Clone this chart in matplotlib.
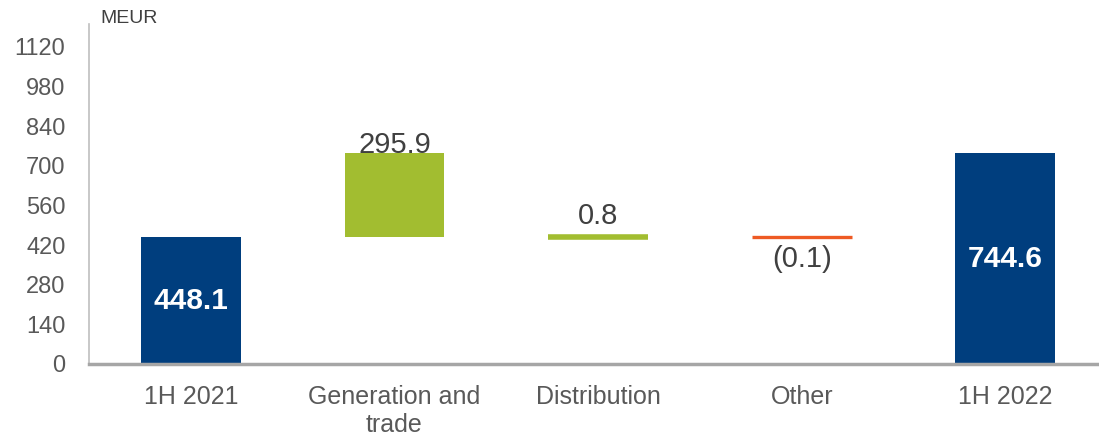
import numpy as np
import matplotlib.pyplot as plt

plt.rcParams['font.family'] = ['Liberation Sans', 'DejaVu Sans']

# data
categories = ["1H 2021", "Generation and\ntrade", "Distribution", "Other", "1H 2022"]
values = [448.1, 295.9, 0.8, -0.1, 744.6]
bases = [0, 448.1, 448.1, 448.1, 0]
labels = ["448.1", "295.9", "0.8", "(0.1)", "744.6"]
yticks = [0, 140, 280, 420, 560, 700, 840, 980, 1120]

NAVY = "#003E7E"
GREEN = "#A2BD30"
ORANGE = "#EE5A24"
TEXT = "#404040"

colors = [NAVY, GREEN, GREEN, ORANGE, NAVY]
edge_lw = [0, 0, 4.0, 2.4, 0]

fig = plt.figure(figsize=(10.99, 4.38), dpi=100)
ax = fig.add_axes([0.081, 0.169, 0.919, 0.776])

x = np.arange(len(categories))
ax.bar(x, values, bottom=bases, width=0.49, color=colors,
       edgecolor=colors, linewidth=edge_lw, zorder=2)

for i, (v, b, lab) in enumerate(zip(values, bases, labels)):
    if i in (0, len(values) - 1):
        ax.text(i, b + v / 2, lab, ha='center', va='center', color='white',
                fontsize=21.5, fontweight='bold')
    elif v > 10:
        ax.text(i, b + v, lab, ha='center', va='baseline', color=TEXT, fontsize=21)
    elif v >= 0:
        ax.annotate(lab, (i, b + v), xytext=(0, 5), textcoords='offset points',
                    ha='center', va='bottom', color=TEXT, fontsize=21)
    else:
        ax.annotate(lab, (i, b + v), xytext=(0, -6), textcoords='offset points',
                    ha='center', va='top', color=TEXT, fontsize=21)

ax.set_xlim(-0.5, 4.46)
ax.set_ylim(0, 1200)
ax.set_yticks(yticks)
ax.set_xticks(x)
ax.set_xticklabels(categories, fontsize=18, color="#595959", linespacing=1.2)
ax.tick_params(axis='y', length=0, pad=17, labelsize=17, labelcolor="#595959")
ax.tick_params(axis='x', length=0, pad=15)

for s in ('top', 'right'):
    ax.spines[s].set_visible(False)
ax.spines['left'].set_color("#BFBFBF")
ax.spines['left'].set_linewidth(1.2)
ax.spines['bottom'].set_color("#A6A6A6")
ax.spines['bottom'].set_linewidth(2.5)

fig.text(0.091, 1 - 23 / 438, "MEUR", fontsize=14, color=TEXT, ha='left', va='baseline')

fig.savefig("out.png", dpi=100)
